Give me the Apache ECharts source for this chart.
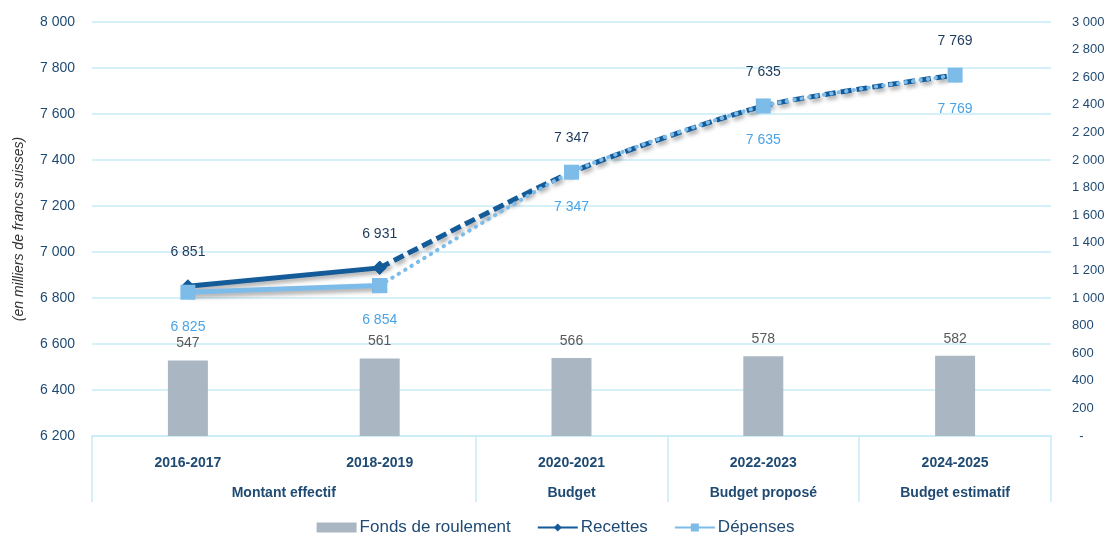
<!DOCTYPE html>
<html>
<head>
<meta charset="utf-8">
<script src="https://cdn.jsdelivr.net/npm/echarts@6/dist/echarts.min.js"></script>
<style>
  html, body { margin: 0; padding: 0; background: #fff; }
  #chart { width: 1111px; height: 537px; }
</style>
</head>
<body>
<div id="chart"></div>
<script>
const periodes = ["2016-2017", "2018-2019", "2020-2021", "2022-2023", "2024-2025"]
const groupes = ["Montant effectif", "Budget", "Budget proposé", "Budget estimatif"]
const fonds = [547, 561, 566, 578, 582]
const recettes = [6851, 6931, 7347, 7635, 7769]
const depenses = [6825, 6854, 7347, 7635, 7769]

// positions des libellés de groupe et des séparateurs sur l'axe 0..5
const groupePos = [1, 2.5, 3.5, 4.5]
const separateurs = [0, 2, 3, 4, 5]

const fmt = (v) => String(v).replace(/\B(?=(\d{3})+(?!\d))/g, " ")

const FONT = "Liberation Sans"
const bleuFonce = "#135b99"
const bleuClair = "#7dbbe9"
const ligneGrille = "#c8ebf8"
const texteAxe = "#1f4a73"

// partie réelle (trait plein) et prévision (pointillés)
const reel = (arr) => arr.map((v, i) => (i <= 1 ? v : "-"))
const prevu = (arr) => arr.map((v, i) => (i >= 1 ? v : "-"))

const ombre = {
  shadowColor: "rgba(0,0,0,0.35)",
  shadowBlur: 4,
  shadowOffsetX: 2,
  shadowOffsetY: 3
}

const chart = echarts.init(document.getElementById("chart"))

chart.setOption({
  animation: false,
  textStyle: { fontFamily: FONT },
  grid: { left: 92, right: 60, top: 22, bottom: 101 },
  legend: {
    top: 514,
    left: "center",
    itemGap: 26,
    itemWidth: 40,
    itemHeight: 10,
    textStyle: { fontSize: 17, color: "#1f4a73", fontFamily: FONT, padding: [0, 0, 0, -2] },
    data: [
      { name: "Fonds de roulement", icon: "rect" },
      "Recettes",
      "Dépenses"
    ]
  },
  xAxis: [
    {
      type: "category",
      data: periodes,
      axisLine: { show: true, lineStyle: { color: ligneGrille, width: 1.5 } },
      axisTick: { show: false },
      axisLabel: {
        fontSize: 14,
        fontWeight: "bold",
        color: texteAxe,
        margin: 20
      }
    },
    {
      type: "value",
      min: 0,
      max: 5,
      position: "bottom",
      splitLine: { show: false },
      axisLine: { show: false },
      axisTick: {
        show: true,
        length: 66,
        customValues: separateurs,
        lineStyle: { color: ligneGrille, width: 1.5 }
      },
      axisLabel: {
        customValues: groupePos,
        margin: 50,
        fontSize: 14,
        fontWeight: "bold",
        color: texteAxe,
        formatter: (v) => groupes[groupePos.indexOf(v)] || ""
      }
    }
  ],
  yAxis: [
    {
      type: "value",
      min: 6200,
      max: 8000,
      interval: 200,
      name: "(en milliers de francs suisses)",
      nameLocation: "middle",
      nameGap: 66,
      nameTextStyle: { fontSize: 14, fontStyle: "italic", color: "#333" },
      axisLine: { show: false },
      axisTick: { show: false },
      splitLine: { lineStyle: { color: ligneGrille, width: 1.5 } },
      axisLabel: { fontSize: 14, color: texteAxe, margin: 17, formatter: fmt }
    },
    {
      type: "value",
      min: 0,
      max: 3000,
      interval: 200,
      position: "right",
      axisLine: { show: false },
      axisTick: { show: false },
      splitLine: { show: false },
      axisLabel: {
        fontSize: 13,
        color: texteAxe,
        margin: 21,
        formatter: (v) => (v === 0 ? "  -" : fmt(v))
      }
    }
  ],
  series: [
    {
      name: "Fonds de roulement",
      type: "bar",
      yAxisIndex: 1,
      data: fonds,
      barWidth: 40,
      itemStyle: { color: "#aab7c3" },
      label: {
        show: true,
        position: "top",
        distance: 10,
        fontSize: 14,
        color: "#595959",
        formatter: (p) => fmt(p.value)
      },
      z: 1
    },
    {
      name: "Recettes",
      type: "line",
      data: reel(recettes),
      symbol: "diamond",
      symbolSize: 14,
      itemStyle: { color: bleuFonce },
      lineStyle: { width: 5, color: bleuFonce, ...ombre },
      label: {
        show: true,
        position: "top",
        distance: 20,
        fontSize: 14,
        color: "#1d3a5c",
        formatter: (p) => fmt(p.value)
      },
      z: 4
    },
    {
      name: "Recettes",
      type: "line",
      data: prevu(recettes),
      smooth: 0.2,
      symbol: "diamond",
      symbolSize: 14,
      itemStyle: { color: bleuFonce },
      lineStyle: { width: 5, type: [11, 5], color: bleuFonce, ...ombre },
      label: {
        show: true,
        position: "top",
        distance: 20,
        fontSize: 14,
        color: "#1d3a5c",
        formatter: (p) => (p.dataIndex >= 2 ? fmt(p.value) : "")
      },
      z: 3
    },
    {
      name: "Dépenses",
      type: "line",
      data: reel(depenses),
      symbol: "rect",
      symbolSize: 15,
      itemStyle: { color: bleuClair },
      lineStyle: { width: 5, color: bleuClair, ...ombre },
      label: {
        show: true,
        position: "bottom",
        distance: 20,
        fontSize: 14,
        color: "#4aa3e6",
        formatter: (p) => fmt(p.value)
      },
      z: 6
    },
    {
      name: "Dépenses",
      type: "line",
      data: prevu(depenses),
      smooth: 0.2,
      symbol: "rect",
      symbolSize: 15,
      itemStyle: { color: bleuClair },
      lineStyle: { width: 4, type: [0.5, 7], cap: "round", color: bleuClair },
      label: {
        show: true,
        position: "bottom",
        distance: 20,
        fontSize: 14,
        color: "#4aa3e6",
        formatter: (p) => (p.dataIndex >= 2 ? fmt(p.value) : "")
      },
      z: 5
    }
  ]
})
</script>
</body>
</html>
